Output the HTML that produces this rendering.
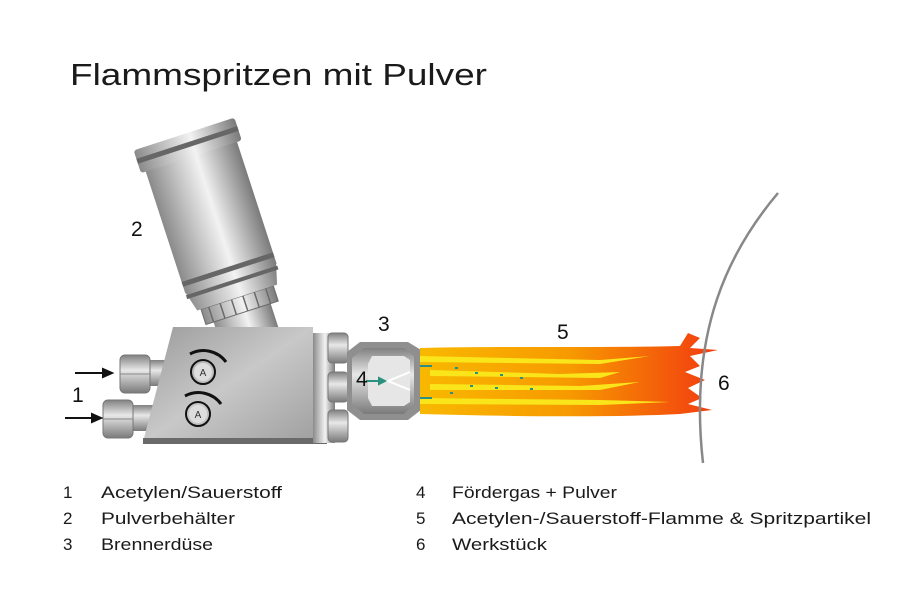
<!DOCTYPE html>
<html><head><meta charset="utf-8"><style>
html,body{margin:0;padding:0;background:#fff;}
svg{display:block;font-family:"Liberation Sans",sans-serif;}
</style></head><body>
<svg width="900" height="600" viewBox="0 0 900 600" xmlns="http://www.w3.org/2000/svg">
<defs>
<linearGradient id="met" x1="0" x2="1" y1="0" y2="0">
<stop offset="0" stop-color="#8a8a8a"/><stop offset="0.3" stop-color="#c4c4c4"/><stop offset="0.55" stop-color="#f2f2f2"/><stop offset="0.8" stop-color="#b0b0b0"/><stop offset="1" stop-color="#7a7a7a"/>
</linearGradient>
<linearGradient id="body" x1="0" x2="1" y1="0" y2="1">
<stop offset="0" stop-color="#9a9a9a"/><stop offset="0.5" stop-color="#c8c8c8"/><stop offset="1" stop-color="#a0a0a0"/>
</linearGradient>
<linearGradient id="metv" x1="0" x2="0" y1="0" y2="1">
<stop offset="0" stop-color="#808080"/><stop offset="0.4" stop-color="#e8e8e8"/><stop offset="1" stop-color="#7a7a7a"/>
</linearGradient>
<linearGradient id="fl" x1="0" x2="1">
<stop offset="0" stop-color="#f8b800"/><stop offset="0.5" stop-color="#f79a00"/><stop offset="1" stop-color="#f23a10"/>
</linearGradient>
</defs>

<text x="70" y="85" font-size="31" fill="#1a1a1a" textLength="417" lengthAdjust="spacingAndGlyphs">Flammspritzen mit Pulver</text>

<!-- canister -->
<g transform="translate(184,134) rotate(-18)">
<rect x="-30" y="185" width="60" height="30" fill="url(#met)"/>
<rect x="-38" y="172" width="76" height="16" fill="url(#met)" stroke="#6a6a6a" stroke-width="1"/>
<path d="M-30,172 v16 M-18,172 v16 M-6,172 v16 M6,172 v16 M18,172 v16 M30,172 v16" stroke="#6a6a6a" stroke-width="1.5"/>
<path d="M-48,150 L48,150 L42,172 L-42,172 Z" fill="url(#met)"/>
<rect x="-48" y="22" width="96" height="130" fill="url(#met)"/>
<rect x="-48" y="140" width="96" height="5" fill="#666"/>
<rect x="-48" y="154" width="96" height="4" fill="#666"/>
<rect x="-53" y="0" width="106" height="24" rx="3" fill="url(#met)"/>
<rect x="-53" y="9" width="106" height="5" fill="#666"/>
</g>

<!-- left fittings -->
<rect x="145" y="360" width="30" height="26" fill="url(#metv)"/>
<rect x="128" y="405" width="30" height="26" fill="url(#metv)"/>
<rect x="120" y="355" width="30" height="38" rx="5" fill="url(#metv)" stroke="#777"/>
<line x1="120" y1="374" x2="150" y2="374" stroke="#888"/>
<rect x="103" y="400" width="30" height="38" rx="5" fill="url(#metv)" stroke="#777"/>
<line x1="103" y1="419" x2="133" y2="419" stroke="#888"/>
<g stroke="#111" stroke-width="2" fill="#111">
<line x1="75" y1="373" x2="106" y2="373"/><path d="M112,373 l-9,-4 v8z"/>
<line x1="65" y1="418" x2="95" y2="418"/><path d="M101,418 l-9,-4 v8z"/>
</g>

<!-- main body -->
<path d="M173,327 L313,327 L313,442 L143,442 Z" fill="url(#body)"/>
<rect x="143" y="438" width="184" height="6" fill="#6a6a6a"/>
<g fill="none" stroke="#111" stroke-width="2">
<circle cx="203" cy="372" r="12"/><circle cx="198" cy="414" r="12"/>
<path d="M190,354 A28,28 0 0 1 226,362" stroke-width="3"/><path d="M185,396 A28,28 0 0 1 221,404" stroke-width="3"/>
</g>
<circle cx="203" cy="372" r="9" fill="#ddd"/><circle cx="198" cy="414" r="9" fill="#ddd"/>
<text x="203" y="376" font-size="10" text-anchor="middle" fill="#333">A</text>
<text x="198" y="418" font-size="10" text-anchor="middle" fill="#333">A</text>

<!-- ring section -->
<rect x="313" y="333" width="22" height="110" fill="url(#met)"/>
<rect x="328" y="333" width="20" height="30" rx="4" fill="url(#metv)" stroke="#777"/>
<rect x="328" y="372" width="20" height="30" rx="4" fill="url(#metv)" stroke="#777"/>
<rect x="328" y="410" width="20" height="32" rx="4" fill="url(#metv)" stroke="#777"/>

<!-- nozzle -->
<path d="M347,352 L360,342 L408,342 L421,350 L421,410 L408,420 L360,420 L347,410 Z" fill="#8f8f8f"/>
<path d="M352,358 L364,348 L404,348 L414,356 L414,404 L404,414 L364,414 L352,404 Z" fill="url(#metv)"/>
<path d="M372,356 L404,356 L410,360 L410,402 L404,406 L372,406 L368,398 L368,364 Z" fill="#e6e6e6"/>
<path d="M388,381 L410,372 M388,381 L410,390 M380,381 H388" stroke="#fff" stroke-width="2" fill="none"/>

<!-- flame -->
<path d="M420,348 C500,346 600,348 680,346 L688,333 L700,338 L690,348 L718,350 L690,356 L700,366 L685,372 L705,380 L688,388 L702,398 L688,404 L712,410 L680,414 C600,418 500,416 420,414 Z" fill="url(#fl)"/>
<g fill="#f9e51a">
<path d="M420,356 L600,360 L650,356 L600,364 L420,362Z"/>
<path d="M430,370 L560,374 L620,372 L600,378 L430,376Z"/>
<path d="M430,384 L580,386 L640,382 L600,390 L430,390Z"/>
<path d="M420,398 L600,400 L670,402 L600,405 L420,404Z"/>
</g>
<g fill="#2a9080">
<rect x="420" y="365" width="12" height="2"/><rect x="420" y="397" width="12" height="2"/>
<rect x="455" y="367" width="3" height="2"/><rect x="475" y="372" width="3" height="2"/><rect x="500" y="374" width="3" height="2"/>
<rect x="470" y="385" width="3" height="2"/><rect x="495" y="387" width="3" height="2"/><rect x="530" y="388" width="3" height="2"/>
<rect x="450" y="392" width="3" height="2"/><rect x="520" y="377" width="3" height="2"/>
</g>
<g stroke="#2a9080" stroke-width="2" fill="#2a9080">
<line x1="366" y1="381" x2="380" y2="381"/><path d="M385,381 l-6,-3 v6z"/>
</g>

<!-- workpiece -->
<path d="M778,193 C730,250 688,330 703,463" fill="none" stroke="#888" stroke-width="2.5"/>

<g font-size="21" fill="#111">
<text x="131" y="236">2</text><text x="72" y="402">1</text>
<text x="378" y="331">3</text><text x="356" y="386">4</text>
<text x="557" y="339">5</text><text x="718" y="390">6</text>
</g>

<g font-size="17" fill="#1a1a1a" lengthAdjust="spacingAndGlyphs">
<text x="63" y="498">1</text><text x="101" y="498" textLength="181" lengthAdjust="spacingAndGlyphs">Acetylen/Sauerstoff</text>
<text x="63" y="524">2</text><text x="101" y="524" textLength="134" lengthAdjust="spacingAndGlyphs">Pulverbehälter</text>
<text x="63" y="550">3</text><text x="101" y="550" textLength="112" lengthAdjust="spacingAndGlyphs">Brennerdüse</text>
<text x="416" y="498">4</text><text x="452" y="498" textLength="165" lengthAdjust="spacingAndGlyphs">Fördergas + Pulver</text>
<text x="416" y="524">5</text><text x="452" y="524" textLength="419" lengthAdjust="spacingAndGlyphs">Acetylen-/Sauerstoff-Flamme &amp; Spritzpartikel</text>
<text x="416" y="550">6</text><text x="452" y="550" textLength="95" lengthAdjust="spacingAndGlyphs">Werkstück</text>
</g>
</svg>
</body></html>
